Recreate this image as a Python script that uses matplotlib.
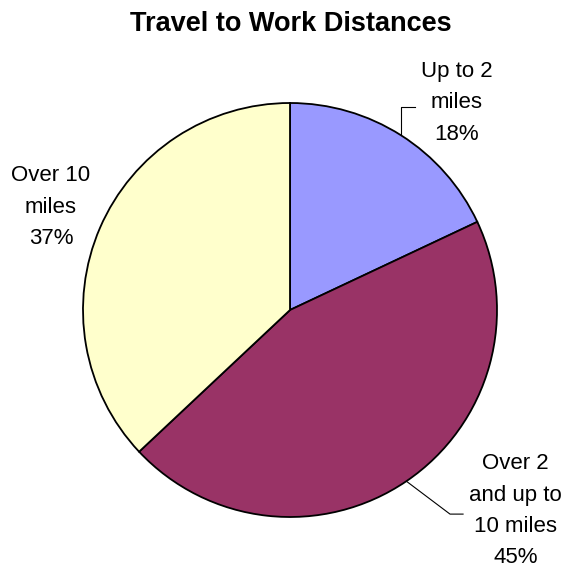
import numpy as np
import matplotlib.pyplot as plt

plt.rcParams['font.family'] = ['Liberation Sans', 'DejaVu Sans']

categories = ["Up to 2\nmiles", "Over 2\nand up to\n10 miles", "Over 10\nmiles"]
values = [18, 45, 37]
colors = ["#9999FF", "#993366", "#FFFFCC"]

# label block centres (data coords, pie radius = 1)
label_pos = [(0.804, 1.00), (1.09, -0.97), (-1.155, 0.496)]
# leader line bends: (corner, end) per label, None = no line
leaders = [((None, 0.981), (0.604, 0.981)),
           ((0.773, -0.986), (0.836, -0.986)),
           None]

fig = plt.figure(figsize=(5.65, 5.67), dpi=100)
r_px = 207
ax = fig.add_axes([(290 - r_px) / 565, (567 - 310 - r_px) / 567,
                   2 * r_px / 565, 2 * r_px / 567])

wedges, _ = ax.pie(values, colors=colors, startangle=90, counterclock=False,
                   wedgeprops=dict(edgecolor="black", linewidth=1.3))
ax.set_xlim(-1, 1)
ax.set_ylim(-1, 1)
ax.set_aspect("equal")
ax.axis("off")

for w, cat, v, pos, ld in zip(wedges, categories, values, label_pos, leaders):
    ax.text(pos[0], pos[1], f"{cat}\n{v}%", ha="center", va="center",
            fontsize=16, linespacing=1.65, clip_on=False)
    if ld is None:
        continue
    mid = np.deg2rad((w.theta1 + w.theta2) / 2)
    x0, y0 = np.cos(mid), np.sin(mid)
    (cx, cy), (ex, ey) = ld
    if cx is None:
        cx = x0
    ax.plot([x0, cx, ex], [y0, cy, ey], color="black", lw=0.8, clip_on=False)

fig.text(291 / 565, 1 - 24 / 567, "Travel to Work Distances", ha="center",
         va="center", fontsize=19.5, fontweight="bold")

fig.savefig("out.png", dpi=100)
